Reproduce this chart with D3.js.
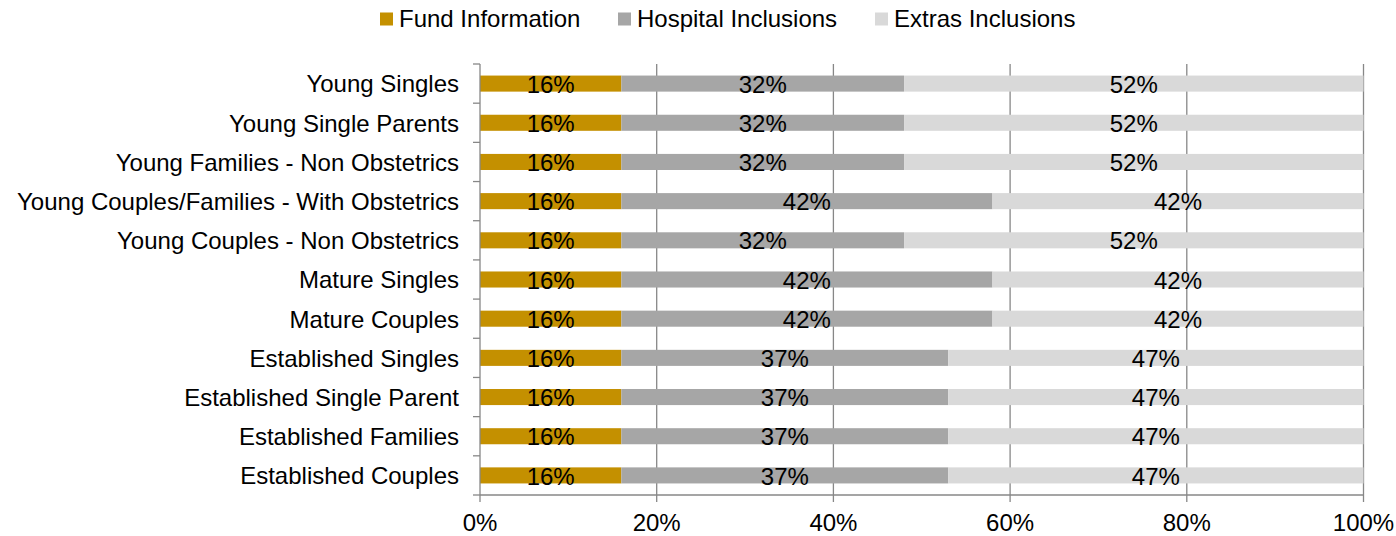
<!DOCTYPE html>
<html><head><meta charset="utf-8">
<script src="https://cdn.jsdelivr.net/npm/d3@7"></script>
<style>body{margin:0;background:#fff}svg{display:block;font-family:"Liberation Sans",Arial,sans-serif}</style>
</head><body>
<svg id="c" width="1396" height="536"></svg>
<script>
const categories = ["Young Singles","Young Single Parents","Young Families - Non Obstetrics","Young Couples/Families - With Obstetrics","Young Couples - Non Obstetrics","Mature Singles","Mature Couples","Established Singles","Established Single Parent","Established Families","Established Couples"];
const seriesNames = ["Fund Information","Hospital Inclusions","Extras Inclusions"];
const fundInfo = [16,16,16,16,16,16,16,16,16,16,16];
const hospital = [32,32,32,42,32,42,42,37,37,37,37];
const extras   = [52,52,52,42,52,42,42,47,47,47,47];
const xTicks = [0,20,40,60,80,100];
const colors = ["#C49000","#A6A6A6","#D9D9D9"];

const svg = d3.select("#c");
const m = {l:480, r:1363.5, t:64, b:495};
const x = d3.scaleLinear().domain([0,100]).range([m.l, m.r]);
const y = d3.scaleBand().domain(categories).range([m.t, m.b]).paddingInner(0.59).paddingOuter(0.295);
const fs = 24;

// gridlines
svg.append("g").selectAll("line").data(xTicks.slice(1)).join("line")
  .attr("x1", d=>x(d)).attr("x2", d=>x(d)).attr("y1", m.t).attr("y2", m.b)
  .attr("stroke","#878787").attr("stroke-width",1.3);

const table = categories.map((c,i)=>({cat:c, vals:[fundInfo[i],hospital[i],extras[i]]}));
const stackData = table.map(r=>{let s=0; return r.vals.map((v,k)=>{const o={cat:r.cat,k,v,x0:s,x1:s+v}; s+=v; return o;});}).flat();

svg.append("g").selectAll("rect").data(stackData).join("rect")
  .attr("x", d=>x(d.x0)).attr("width", d=>x(d.x1)-x(d.x0))
  .attr("y", d=>y(d.cat)).attr("height", y.bandwidth())
  .attr("fill", d=>colors[d.k]);

svg.append("g").selectAll("text").data(stackData).join("text")
  .attr("x", d=>x((d.x0+d.x1)/2)).attr("y", d=>y(d.cat)+y.bandwidth()/2)
  .attr("dy","0.38em").attr("text-anchor","middle")
  .attr("font-size", fs).attr("fill","#000")
  .text(d=>d.v+"%");

// y axis
const ya = svg.append("g").attr("transform",`translate(${m.l},0)`);
ya.append("line").attr("x1",0).attr("x2",0).attr("y1",m.t).attr("y2",m.b).attr("stroke","#878787").attr("stroke-width",1.3);
const bounds = d3.range(categories.length+1).map(i=>m.t + i*(m.b-m.t)/categories.length);
ya.selectAll("line.t").data(bounds).join("line").attr("class","t")
  .attr("x1",-7).attr("x2",0).attr("y1",d=>d).attr("y2",d=>d).attr("stroke","#878787").attr("stroke-width",1.3);
ya.selectAll("text").data(categories).join("text")
  .attr("x",-21).attr("y",d=>y(d)+y.bandwidth()/2).attr("dy","0.37em")
  .attr("text-anchor","end").attr("font-size",fs).attr("fill","#000").text(d=>d);

// x axis
const xa = svg.append("g");
xa.append("line").attr("x1",m.l).attr("x2",m.r).attr("y1",m.b).attr("y2",m.b).attr("stroke","#878787").attr("stroke-width",1.3);
xa.selectAll("line.t").data(xTicks).join("line").attr("class","t")
  .attr("x1",d=>x(d)).attr("x2",d=>x(d)).attr("y1",m.b).attr("y2",m.b+7).attr("stroke","#878787").attr("stroke-width",1.3);
xa.selectAll("text").data(xTicks).join("text")
  .attr("x",d=>x(d)).attr("y",531).attr("text-anchor","middle").attr("font-size",fs).attr("fill","#000").text(d=>d+"%");

// legend
const legX = [380, 618, 875];
const lg = svg.append("g");
seriesNames.forEach((n,i)=>{
  lg.append("rect").attr("x",legX[i]).attr("y",12.5).attr("width",13).attr("height",13).attr("fill",colors[i]);
  lg.append("text").attr("x",legX[i]+19).attr("y",27).attr("font-size",fs).attr("fill","#000").text(n);
});
</script>
</body></html>
